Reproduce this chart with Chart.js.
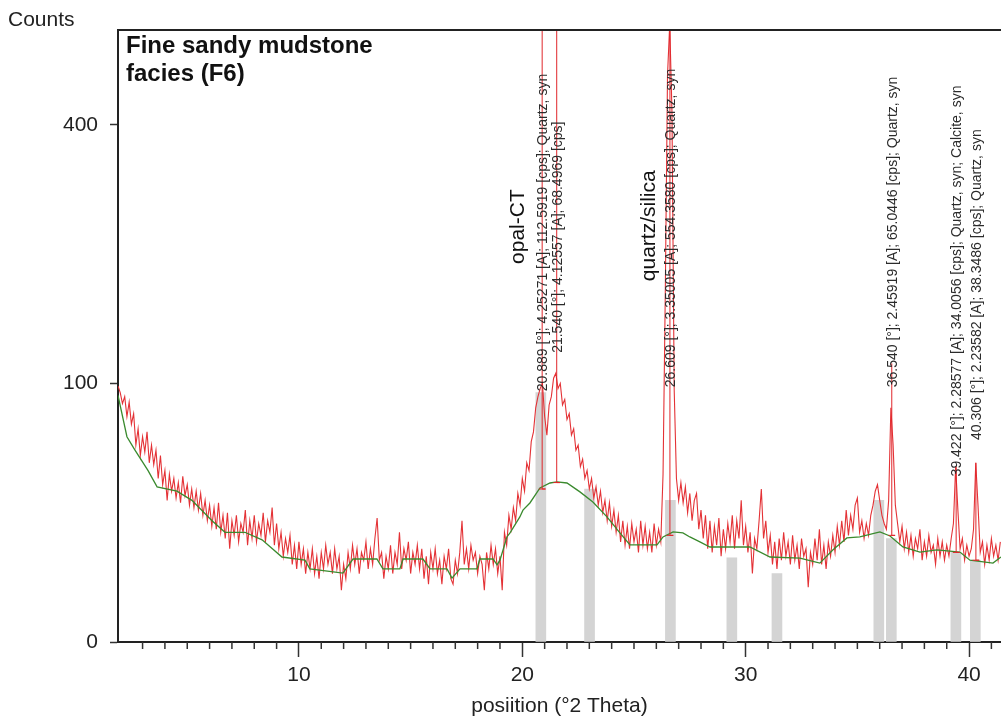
<!DOCTYPE html>
<html>
<head>
<meta charset="utf-8">
<script src="https://cdn.jsdelivr.net/npm/chart.js@4.4.1/dist/chart.umd.min.js"></script>
<style>
  html, body { margin: 0; padding: 0; background: #fff; }
  canvas { display: block; }
</style>
</head>
<body>
<canvas id="xrdChart" width="1001" height="722"></canvas>
<script>
// scan: counts every 0.1 deg 2theta starting at 1.9
const scanStart = 1.9;
const scanStep = 0.1;
const counts = [
  98,
  93, 85, 90, 76, 86, 71, 78, 58, 68, 52,
  63, 54, 66, 48, 58, 47, 55, 40, 52, 37,
  44, 30, 42, 34, 40, 31, 38, 29, 41, 32,
  37, 28, 35, 27, 34, 26, 33, 24, 30, 22,
  28, 20, 27, 19, 29, 18, 24, 16, 25, 13,
  22, 17, 24, 15, 21, 18, 26, 14, 22, 16,
  24, 15, 21, 17, 25, 15, 22, 18, 27, 14,
  21, 13, 18, 11, 16, 12, 17, 9, 14, 8,
  15, 9, 13, 7, 12, 8, 13, 7, 11, 6,
  12, 8, 14, 9, 12, 7, 13, 8, 11, 4,
  9, 6, 12, 8, 14, 9, 13, 7, 12, 10,
  15, 8, 13, 9, 16, 23, 10, 12, 6, 11,
  8, 14, 7, 12, 9, 18, 8, 13, 10, 15,
  7, 12, 9, 14, 8, 13, 6, 11, 5, 12,
  8, 13, 7, 10, 5, 11, 8, 13, 6, 5,
  10, 7, 12, 22, 9, 13, 8, 14, 10, 12,
  7, 11, 9, 4, 12, 8, 14, 9, 13, 7,
  11, 4, 18, 14, 24, 19, 27, 22, 33, 28,
  40, 34, 48, 44, 60, 66, 82, 90, 96, 100,
  76, 64, 84, 90, 104, 108, 96, 100, 84, 88,
  74, 78, 64, 68, 55, 58, 46, 50, 40, 44,
  35, 40, 31, 36, 28, 34, 25, 30, 22, 29,
  20, 26, 18, 24, 15, 22, 14, 20, 13, 21,
  15, 19, 12, 22, 14, 20, 13, 18, 12, 21,
  14, 19, 15, 42, 180, 480, 571, 420, 95, 40,
  30, 38, 29, 36, 25, 33, 22, 30, 33, 19,
  26, 16, 24, 13, 22, 12, 20, 14, 23, 11,
  19, 13, 21, 15, 24, 13, 22, 16, 30, 14,
  20, 12, 18, 7, 16, 13, 22, 35, 16, 22,
  12, 17, 9, 15, 8, 16, 10, 18, 11, 15,
  9, 17, 10, 14, 8, 16, 11, 13, 4.5, 12,
  9, 16, 10, 19, 9, 14, 8, 15, 11, 17,
  12, 20, 14, 22, 15, 26, 17, 24, 19, 28,
  31, 18, 22, 16, 21, 17, 24, 28, 34, 37,
  30, 24, 21, 19, 30, 82, 58, 28, 21, 15,
  20, 13, 18, 12, 17, 11, 16, 13, 19, 10,
  15, 11, 17, 12, 14, 9, 16, 11, 15, 10,
  14, 11, 16, 21, 46, 26, 13, 16, 10, 14,
  11, 13, 19, 48, 28, 12, 15, 9, 14, 10,
  16, 11, 14, 10, 15
];

// fitted background
const bgTheta = [
  1.9, 2.3, 2.66, 3.24, 3.65, 4.54, 5.21, 6.11, 6.69, 7.58,
  8.35, 9.24, 10.27, 10.49, 11.97, 12.42, 13.49, 13.76, 14.52, 14.66,
  15.55, 15.87, 16.63, 16.85, 17.21, 17.97, 18.10, 18.69, 18.87, 19.0,
  19.31, 19.45, 19.89, 20.03, 20.34, 20.79, 21.24, 21.55, 22.0, 22.58,
  23.16, 23.79, 24.37, 24.82, 26.03, 26.30, 26.75, 27.19, 27.5, 27.95,
  28.40, 30.19, 31.09, 32.43, 33.32, 33.91, 34.53, 35.11, 36.01, 36.46,
  37.04, 37.80, 38.56, 39.59, 40.04, 41.07, 41.43
];
const bgCounts = [
  91, 63, 55, 44, 36, 34, 30, 22, 18, 18,
  15.6, 10.8, 10, 8, 7.1, 10.3, 10.3, 8, 8, 10.3,
  10.3, 8, 8, 6.1, 8, 8, 10.3, 10.3, 8.9, 10,
  16.5, 17.8, 23.4, 26, 28.9, 35.5, 37.8, 38.3, 37.8, 33.7,
  29.3, 23.4, 17.8, 14.1, 14.1, 16.5, 18.1, 17.8, 16.5, 15,
  13.5, 13.5, 10.8, 10.5, 9.3, 12.7, 16.2, 16.5, 18.1, 16.8,
  13.5, 12.1, 12.7, 12.1, 10, 9.3, 10.8
];

// peak list
const peakTheta = [20.889, 21.540, 26.609, 36.540, 39.422, 40.306];
const peakD = ['4.25271', '4.12557', '3.35005', '2.45919', '2.28577', '2.23582'];
const peakCps = ['112.5919', '68.4969', '554.3580', '65.0446', '34.0056', '38.3486'];
const peakPhase = ['Quartz, syn', '', 'Quartz, syn', 'Quartz, syn', 'Quartz, syn; Calcite, syn', 'Quartz, syn'];
const peakBase = [35, 38, 17, 17, 12, 10];
const peakTop = [560, 560, 560, 116, 46, 48];

// peak search windows (grey)
const searchTheta = [20.83, 23.01, 26.63, 29.38, 31.40, 35.96, 36.52, 39.41, 40.28];
const searchCounts = [93, 35, 30, 10.6, 7, 30, 16, 12, 10];

const phaseNames = ['opal-CT', 'quartz/silica'];
const xTicks = [10, 20, 30, 40];
const yTicks = [0, 100, 400];

// square-root intensity axis
class SqrtScale extends Chart.LinearScale {
  getPixelForValue(value) {
    if (value === null || value === undefined || isNaN(value)) return NaN;
    const lo = Math.sqrt(Math.max(this.min, 0));
    const hi = Math.sqrt(this.max);
    return this.getPixelForDecimal((Math.sqrt(Math.max(value, 0)) - lo) / (hi - lo));
  }
  getValueForPixel(pixel) {
    const lo = Math.sqrt(Math.max(this.min, 0));
    const hi = Math.sqrt(this.max);
    const s = lo + this.getDecimalForPixel(pixel) * (hi - lo);
    return s * s;
  }
}
SqrtScale.id = 'sqrt';
SqrtScale.defaults = Chart.LinearScale.defaults;
Chart.register(SqrtScale);

Chart.defaults.font.family = '"Liberation Sans", Arial, sans-serif';
Chart.defaults.color = '#222';

let scanData = counts.map((c, i) => ({ x: scanStart + i * scanStep, y: c }));
let bgData = bgTheta.map((t, i) => ({ x: t, y: bgCounts[i] }));
let searchData = searchTheta.map((t, i) => ({ x: t, y: searchCounts[i] }));

// peak markers: short base line plus a stick, separated by gaps
let markerData = [];
for (let i = 0; i < peakTheta.length; i++) {
  let t = peakTheta[i];
  markerData.push({ x: t - 0.15, y: peakBase[i] });
  markerData.push({ x: t + 0.15, y: peakBase[i] });
  markerData.push({ x: t, y: peakBase[i] });
  markerData.push({ x: t, y: peakTop[i] });
  markerData.push({ x: t, y: null });
}

function peakText(i) {
  let s = peakTheta[i].toFixed(3) + ' [°]; ' + peakD[i] + ' [A]; ' + peakCps[i] + ' [cps]';
  if (peakPhase[i]) s += '; ' + peakPhase[i];
  return s;
}

const labelAt = [94, 125, 97, 97, 41, 61];
const phaseAt = [{ t: 20.08, c: 258 }, { t: 25.94, c: 259 }];

const decorations = {
  id: 'decorations',
  afterDatasetsDraw(chart) {
    const { ctx, chartArea: a, scales: { x, y } } = chart;
    ctx.save();
    ctx.beginPath();
    ctx.rect(a.left, a.top, a.right - a.left, a.bottom - a.top);
    ctx.clip();

    ctx.fillStyle = '#2b2b2b';
    ctx.font = '14px "Liberation Sans", Arial, sans-serif';
    ctx.textAlign = 'left';
    ctx.textBaseline = 'alphabetic';
    for (let i = 0; i < peakTheta.length; i++) {
      ctx.save();
      ctx.translate(x.getPixelForValue(peakTheta[i]) + 5, y.getPixelForValue(labelAt[i]));
      ctx.rotate(-Math.PI / 2);
      ctx.fillText(peakText(i), 0, 0);
      ctx.restore();
    }

    ctx.fillStyle = '#111';
    ctx.font = '21px "Liberation Sans", Arial, sans-serif';
    ctx.textAlign = 'center';
    phaseNames.forEach((name, i) => {
      ctx.save();
      ctx.translate(x.getPixelForValue(phaseAt[i].t), y.getPixelForValue(phaseAt[i].c));
      ctx.rotate(-Math.PI / 2);
      ctx.fillText(name, 0, 0);
      ctx.restore();
    });

    ctx.textAlign = 'left';
    ctx.font = 'bold 24px "Liberation Sans", Arial, sans-serif';
    ctx.fillText('Fine sandy mudstone', a.left + 8, a.top + 23);
    ctx.fillText('facies (F6)', a.left + 8, a.top + 51);
    ctx.restore();

    // frame top edge
    ctx.save();
    ctx.strokeStyle = '#222';
    ctx.lineWidth = 2;
    ctx.beginPath();
    ctx.moveTo(a.left, a.top);
    ctx.lineTo(a.right, a.top);
    ctx.stroke();

    // minor ticks every degree
    ctx.lineWidth = 1.5;
    ctx.strokeStyle = '#333';
    for (let t = 3; t <= 41; t++) {
      if (t % 10 === 0) continue;
      let px = x.getPixelForValue(t);
      ctx.beginPath();
      ctx.moveTo(px, a.bottom);
      ctx.lineTo(px, a.bottom + 7);
      ctx.stroke();
    }

    ctx.fillStyle = '#222';
    ctx.font = '21px "Liberation Sans", Arial, sans-serif';
    ctx.textAlign = 'left';
    ctx.fillText('Counts', 8, 26);
    ctx.restore();
  }
};

new Chart(document.getElementById('xrdChart'), {
  type: 'line',
  data: {
    datasets: [
      {
        label: 'peaks',
        data: markerData,
        borderColor: '#e0262b',
        borderWidth: 1,
        pointRadius: 0,
        spanGaps: false,
      },
      {
        label: 'background',
        data: bgData,
        borderColor: '#3a8a2e',
        borderWidth: 1.3,
        pointRadius: 0,
      },
      {
        label: 'scan',
        data: scanData,
        borderColor: '#e43236',
        borderWidth: 1.1,
        pointRadius: 0,
      },
      {
        type: 'bar',
        label: 'search',
        data: searchData,
        backgroundColor: '#d4d4d4',
        borderWidth: 0,
        barThickness: 10,
      },
    ],
  },
  options: {
    responsive: false,
    animation: false,
    devicePixelRatio: 1,
    layout: { padding: { top: 30, right: 0, bottom: 0, left: 0 } },
    plugins: {
      legend: { display: false },
      tooltip: { enabled: false },
    },
    elements: { line: { tension: 0 } },
    scales: {
      x: {
        type: 'linear',
        min: 1.9,
        max: 41.43,
        offset: false,
        afterBuildTicks: (s) => { s.ticks = xTicks.map((v) => ({ value: v })); },
        afterFit: (s) => { s.height = 80; },
        grid: { drawOnChartArea: false, offset: false, tickLength: 15, tickColor: '#333', tickWidth: 1.5 },
        border: { color: '#222', width: 2 },
        ticks: { font: { size: 21 }, color: '#222', padding: 6, maxRotation: 0, autoSkip: false },
        title: {
          display: true,
          text: 'posiition (°2 Theta)',
          font: { size: 21 },
          color: '#222',
          padding: { top: 0, bottom: 3 },
        },
      },
      y: {
        type: 'sqrt',
        min: 0,
        max: 560,
        afterBuildTicks: (s) => { s.ticks = yTicks.map((v) => ({ value: v })); },
        afterFit: (s) => { s.width = 118; },
        grid: { drawOnChartArea: false, tickLength: 8, tickColor: '#333', tickWidth: 1.5 },
        border: { color: '#222', width: 2 },
        ticks: { font: { size: 21 }, color: '#222', padding: 12 },
      },
    },
  },
  plugins: [decorations],
});
</script>
</body>
</html>
